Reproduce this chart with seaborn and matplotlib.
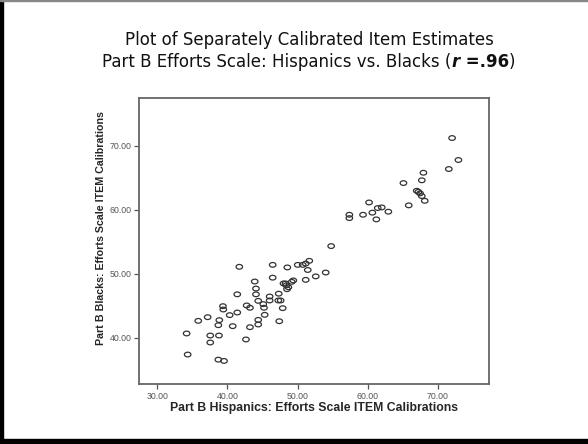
import numpy as np
import pandas as pd
import seaborn as sns
import matplotlib
matplotlib.use("Agg")
import matplotlib.pyplot as plt
from matplotlib.patches import Rectangle

# item calibrations
hispanic = [72.04, 72.94, 71.57, 67.95, 67.72, 65.10, 67.00, 67.23, 67.47, 67.72,
            68.14, 65.86, 60.20, 61.44, 62.01, 60.67, 62.95, 61.24, 59.34, 57.39,
            57.39, 54.80,
            41.70, 46.46, 48.55, 50.03, 50.74, 51.17, 51.68, 51.46, 54.02, 52.60,
            51.17, 49.40, 49.17, 46.46, 48.00, 48.30, 48.40, 48.70, 48.50, 43.90,
            44.08, 41.41, 44.08, 46.03, 46.03, 47.32, 47.26, 47.60, 44.40, 45.12,
            45.22, 42.75, 43.22, 39.37, 39.42, 41.41, 40.33, 45.32, 47.89, 37.19,
            35.85, 38.85, 44.40, 47.40, 38.71, 40.76, 44.40, 43.22, 34.19, 37.56,
            38.80, 37.56, 42.65, 34.34, 38.71, 39.52]
blacks = [71.20, 67.77, 66.36, 65.78, 64.60, 64.17, 62.97, 62.80, 62.56, 62.14,
          61.40, 60.69, 61.14, 60.27, 60.37, 59.55, 59.70, 58.50, 59.22, 59.22,
          58.70, 54.33,
          51.10, 51.40, 51.00, 51.40, 51.40, 51.60, 52.03, 50.60, 50.20, 49.60,
          49.06, 48.97, 48.75, 49.40, 48.50, 48.50, 48.20, 47.90, 47.60, 48.80,
          47.70, 46.80, 46.80, 46.46, 45.84, 46.90, 45.84, 45.84, 45.78, 45.27,
          44.70, 45.06, 44.70, 44.95, 44.43, 43.96, 43.55, 43.60, 44.64, 43.23,
          42.66, 42.77, 42.81, 42.60, 41.98, 41.83, 42.09, 41.67, 40.69, 40.37,
          40.37, 39.28, 39.75, 37.40, 36.60, 36.40]
ticks = [30, 40, 50, 60, 70]

df = pd.DataFrame({'hisp': hispanic, 'black': blacks})

sns.set_style("white")
plt.rcParams['font.family'] = ['Liberation Sans', 'DejaVu Sans']

fig = plt.figure(figsize=(5.88, 4.44), dpi=100)
fig.patch.set_facecolor('white')

# slide frame
fig.patches.append(Rectangle((0, 0), 3/588, 1, transform=fig.transFigure,
                             color='black', zorder=0))
fig.patches.append(Rectangle((0, 0), 1, 5/444, transform=fig.transFigure,
                             color='black', zorder=0))
fig.patches.append(Rectangle((0, 1 - 1.5/444), 1, 1.5/444, transform=fig.transFigure,
                             color='#888888', zorder=0))

ax = fig.add_axes([139/588, 1 - 384/444, 350/588, 286/444])

t = np.linspace(0, 2*np.pi, 30)
ell = np.column_stack([np.cos(t), 0.72*np.sin(t)])

sns.scatterplot(data=df, x='hisp', y='black', ax=ax, marker=ell, s=22,
                facecolor='none', edgecolor='#333333', linewidth=0.9)

ax.set_xlim(27.4, 77.3)
ax.set_ylim(32.8, 77.45)
ax.set_xticks(ticks)
ax.set_yticks(ticks[1:])
ax.set_xticklabels(['%.2f' % v for v in ticks])
ax.set_yticklabels(['%.2f' % v for v in ticks[1:]])
for s in ax.spines.values():
    s.set_color('#666666')
    s.set_linewidth(1.3)
ax.tick_params(axis='both', direction='out', length=3.5, width=0.9, color='#555555',
               labelsize=6.3, labelcolor='#555555', pad=2, left=True, bottom=True)

ax.set_xlabel('Part B Hispanics: Efforts Scale ITEM Calibrations', fontsize=8.8,
              fontweight='bold', labelpad=1)
ax.set_ylabel('Part B Blacks: Efforts Scale ITEM Calibrations', fontsize=7.7,
              fontweight='bold')
ax.yaxis.set_label_coords(-0.094, 0.545)

# title lines
tfont = ['DejaVu Sans']
tsize = 12
t1 = fig.text(309/588, 1 - 45/444, 'Plot of Separately Calibrated Item Estimates',
              ha='center', va='baseline', fontsize=tsize, family=tfont,
              color='#111111')

p1 = fig.text(102/588, 1 - 67/444, 'Part B Efforts Scale: Hispanics vs. Blacks (',
              ha='left', va='baseline', fontsize=tsize, family=tfont, color='#111111')
p2 = ax.annotate('r', xy=(1, 0), xycoords=p1, va='bottom', ha='left',
                 fontsize=tsize, family=tfont, fontweight='bold', fontstyle='italic',
                 color='#111111', annotation_clip=False)
p3 = ax.annotate(' =.96', xy=(1, 0), xycoords=p2, va='bottom', ha='left',
                 fontsize=tsize, family=tfont, fontweight='bold',
                 color='#111111', annotation_clip=False)
p4 = ax.annotate(')', xy=(1, 0), xycoords=p3, va='bottom', ha='left',
                 fontsize=tsize, family=tfont, color='#111111', annotation_clip=False)

# centre the second title line under the first
fig.canvas.draw()
r = fig.canvas.get_renderer()
left = p1.get_window_extent(r).x0
right = p4.get_window_extent(r).x1
shift = 309 - (left + right) / 2
p1.set_x(p1.get_position()[0] + shift / 588)

fig.savefig('out.png', dpi=100)
